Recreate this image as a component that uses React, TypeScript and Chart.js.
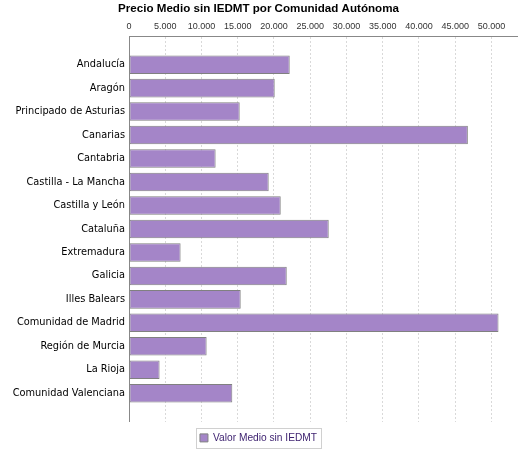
import { useEffect, useRef } from "react";
import { Chart, registerables } from "chart.js";

Chart.register(...registerables);

const title = "Precio Medio sin IEDMT por Comunidad Autónoma";
const seriesLabel = "Valor Medio sin IEDMT";

const regions = [
  "Andalucía",
  "Aragón",
  "Principado de Asturias",
  "Canarias",
  "Cantabria",
  "Castilla - La Mancha",
  "Castilla y León",
  "Cataluña",
  "Extremadura",
  "Galicia",
  "Illes Balears",
  "Comunidad de Madrid",
  "Región de Murcia",
  "La Rioja",
  "Comunidad Valenciana",
];

const avgPrice = [
  22170, 20100, 15270, 46740, 11950, 19270, 20930, 27550, 7120, 21760, 15410,
  50970, 10710, 4220, 14250,
];

const priceTicks = [
  0, 5000, 10000, 15000, 20000, 25000, 30000, 35000, 40000, 45000, 50000,
];

const formatThousands = (v: number) =>
  String(Math.round(v)).replace(/\B(?=(\d{3})+(?!\d))/g, ".");

// box around the legend, like the old java chart
const legendFrame = {
  id: "legendFrame",
  afterDraw(chart: any) {
    const legend = chart.legend;
    if (!legend || !legend.legendHitBoxes?.length) return;
    const hb = legend.legendHitBoxes[0];
    const ctx = chart.ctx;
    ctx.save();
    ctx.strokeStyle = "#d0d0d0";
    ctx.lineWidth = 1;
    ctx.strokeRect(
      Math.round(hb.left - 3) - 0.5,
      Math.round(hb.top - 5) + 0.5,
      Math.round(hb.width + 8),
      Math.round(hb.height + 10)
    );
    ctx.restore();
  },
};

const App = () => {
  const canvasRef = useRef<HTMLCanvasElement | null>(null);
  const chartRef = useRef<Chart | null>(null);

  useEffect(() => {
    if (!canvasRef.current) return;
    if (chartRef.current) chartRef.current.destroy();

    const margin = 1.22;
    const xMax = Math.max(...avgPrice) * 1.05;

    chartRef.current = new Chart(canvasRef.current, {
      type: "bar",
      data: {
        datasets: [
          {
            label: seriesLabel,
            data: avgPrice.map((v, i) => ({ x: v, y: i })),
            backgroundColor: "#a485c8",
            borderColor: "#808080",
            borderWidth: 1,
            borderSkipped: false,
            barPercentage: 0.79,
            categoryPercentage: 1,
          },
        ],
      },
      plugins: [legendFrame],
      options: {
        indexAxis: "y",
        animation: false,
        responsive: true,
        maintainAspectRatio: false,
        layout: { padding: { top: 0, left: 0, right: 8, bottom: -3 } },
        plugins: {
          title: {
            display: true,
            text: title,
            color: "#000",
            font: { family: "Liberation Sans", weight: "bold", size: 11.6 },
            padding: { top: 2, bottom: 1.3 },
          },
          legend: {
            position: "bottom",
            labels: {
              color: "#3b1f6e",
              font: { family: "Liberation Sans", size: 10.2 },
              boxWidth: 8,
              boxHeight: 8,
              padding: 10.9,
            },
          },
          tooltip: { enabled: false },
        },
        scales: {
          x: {
            type: "linear",
            position: "top",
            min: 0,
            max: xMax,
            afterBuildTicks: (scale: any) => {
              scale.ticks = priceTicks.map((v) => ({ value: v }));
            },
            ticks: {
              padding: 4,
              color: "#333",
              font: { family: "Liberation Sans", size: 9 },
              callback: (v: any) => formatThousands(Number(v)),
            },
            grid: { color: "#d9d9d9", drawTicks: false },
            border: { color: "#888", width: 1, dash: [2, 2] },
          },
          y: {
            type: "linear",
            reverse: true,
            offset: false,
            min: -margin,
            max: regions.length - 1 + margin,
            afterBuildTicks: (scale: any) => {
              scale.ticks = regions.map((_, i) => ({ value: i }));
            },
            afterFit: (scale: any) => {
              scale.width = 129;
            },
            ticks: {
              padding: 4,
              color: "#000",
              font: { family: "DejaVu Sans", size: 9.8 },
              callback: (v: any) => regions[v] ?? "",
            },
            grid: { display: false, drawTicks: false },
            border: { color: "#888", width: 1 },
          },
        },
      },
    });

    return () => {
      if (chartRef.current) {
        chartRef.current.destroy();
        chartRef.current = null;
      }
    };
  }, []);

  return (
    <div
      style={{
        position: "fixed",
        left: 0,
        top: 0,
        width: 525,
        height: 450,
        background: "#fff",
      }}
    >
      <canvas ref={canvasRef}></canvas>
    </div>
  );
};

export default App;
